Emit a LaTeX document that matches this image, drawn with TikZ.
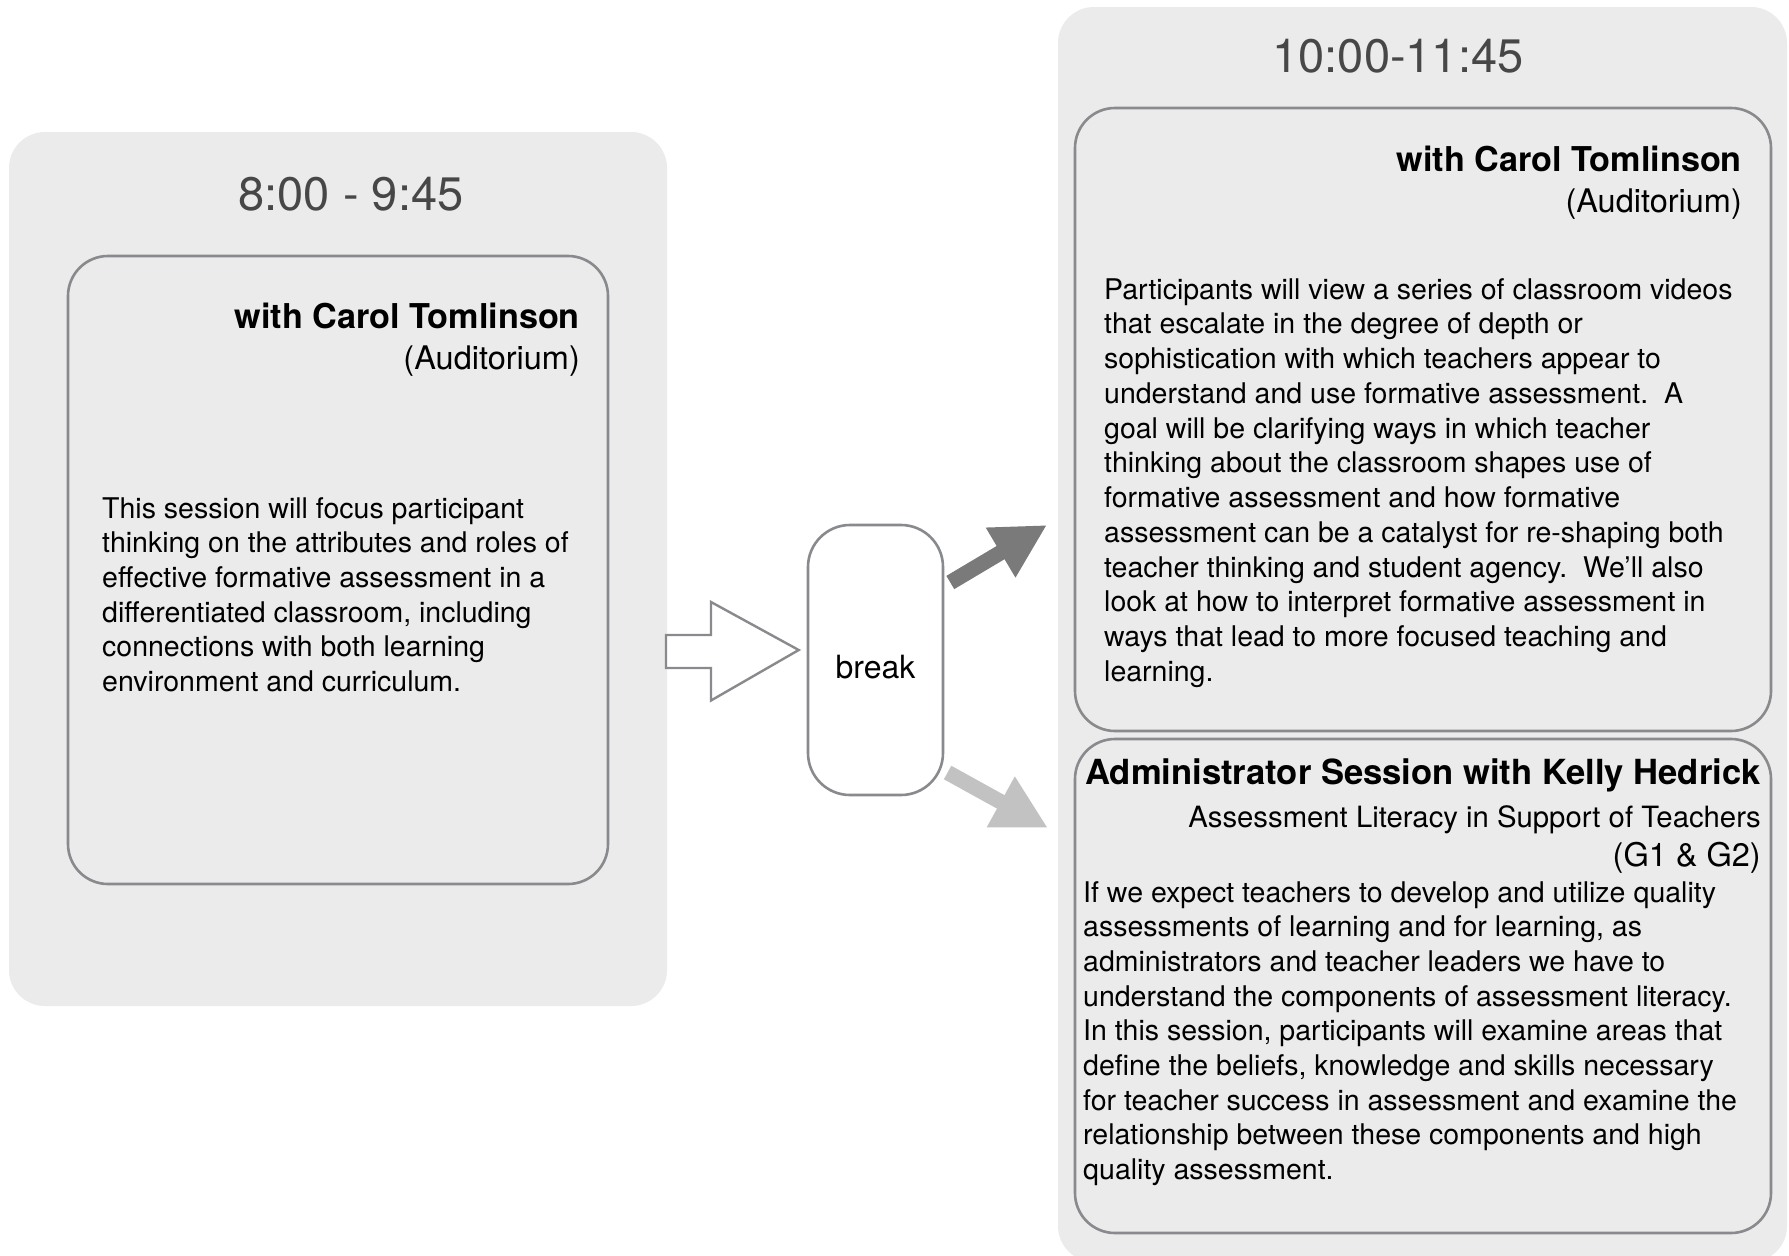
\documentclass[tikz,border=0pt]{standalone}
\usepackage{fontspec}
\setmainfont{TeX Gyre Heros}
\usetikzlibrary{arrows.meta,calc}
\definecolor{panelgray}{HTML}{EBEBEB}
\definecolor{edgegray}{HTML}{888A8D}
\definecolor{darkarrow}{HTML}{7A7A7A}
\definecolor{lightarrow}{HTML}{C2C2C2}
\begin{document}
\begin{tikzpicture}[x=1pt,y=-1pt,
  panel/.style={fill=panelgray, rounded corners=36pt, inner sep=0pt, outer sep=0pt},
  sessbox/.style={draw=edgegray, line width=2.6pt, fill=panelgray, rounded corners=40pt, inner sep=0pt, outer sep=0pt},
  breakbox/.style={draw=edgegray, line width=2.6pt, fill=white, rounded corners=42pt, inner sep=0pt,
     minimum width=135pt, minimum height=270pt, text height=36pt, text depth=0pt, font=\fontsize{32}{38}\selectfont},
  bodytxt/.style={anchor=base west, inner sep=0pt, font=\fontsize{28.5}{34.7}\selectfont},
  headtxt/.style={anchor=base east, inner sep=0pt, font=\fontsize{34.2}{40}\selectfont\bfseries},
  headtxtb/.style={anchor=base east, inner sep=0pt, font=\fontsize{34.6}{40}\selectfont\bfseries},
  subtxt/.style={anchor=base east, inner sep=0pt, font=\fontsize{32.5}{38}\selectfont},
  subtxtb/.style={anchor=base east, inner sep=0pt, font=\fontsize{29.3}{35}\selectfont},
  timetxt/.style={anchor=base, inner sep=0pt, font=\fontsize{47}{56}\selectfont, text=black!72},
  hollowarrow/.style={draw=edgegray, line width=2.4pt, fill=white, line join=miter},
  fatarrow/.style={line width=15.4pt, -{Triangle[length=54pt,width=54pt]}}
]
\useasboundingbox (0,0) rectangle (1789,1256);
\clip (0,0) rectangle (1789,1256);
\fill[white] (0,0) rectangle (1789,1256);

% panels
\node[panel, minimum width=658pt, minimum height=874pt] (L) at (338,569) {};
\node[panel, minimum width=729pt, minimum height=1255pt] (R) at (1422.5,634.5) {};

% session boxes
\node[sessbox, minimum width=540pt, minimum height=628pt] (LS) at (338,570) {};
\node[sessbox, minimum width=696pt, minimum height=623pt] (RT) at (1423,419.5) {};
\node[sessbox, minimum width=696pt, minimum height=494pt] (RB) at (1423,986) {};

% times
\node[timetxt] (t1) at (351,210) {8:00 - 9:45};
\node[timetxt] (t2) at (1398,72) {10:00-11:45};

% left session
\node[headtxt] (lh) at (580,328) {with Carol Tomlinson};
\node[subtxt] (ls) at (580,369) {(Auditorium)};
\foreach \t [count=\i] in {
  {This session will focus participant},
  {thinking on the attributes and roles of},
  {effective formative assessment in a},
  {differentiated classroom, including},
  {connections with both learning},
  {environment and curriculum.}}
  \node[bodytxt] (lb\i) at (102,{518+34.7*(\i-1)}) {\t};

% right top session
\node[headtxt] (rh) at (1742,171) {with Carol Tomlinson};
\node[subtxt] (rs) at (1742,212) {(Auditorium)};
\foreach \t [count=\i] in {
  {Participants will view a series of classroom videos},
  {that escalate in the degree of depth or},
  {sophistication with which teachers appear to},
  {understand and use formative assessment.\ \ A},
  {goal will be clarifying ways in which teacher},
  {thinking about the classroom shapes use of},
  {formative assessment and how formative},
  {assessment can be a catalyst for re-shaping both},
  {teacher thinking and student agency.\ \ We’ll also},
  {look at how to interpret formative assessment in},
  {ways that lead to more focused teaching and},
  {learning.}}
  \node[bodytxt] (rb\i) at (1104,{299+34.75*(\i-1)}) {\t};

% right bottom session
\node[headtxtb] (ah) at (1761,784) {Administrator Session with Kelly Hedrick};
\node[subtxtb] (as) at (1761,827) {Assessment Literacy in Support of Teachers};
\node[subtxt] (ag) at (1761,866) {(G1 \& G2)};
\foreach \t [count=\i] in {
  {If we expect teachers to develop and utilize quality},
  {assessments of learning and for learning, as},
  {administrators and teacher leaders we have to},
  {understand the components of assessment literacy.},
  {In this session, participants will examine areas that},
  {define the beliefs, knowledge and skills necessary},
  {for teacher success in assessment and examine the},
  {relationship between these components and high},
  {quality assessment.}}
  \node[bodytxt] (ab\i) at (1083,{902+34.7*(\i-1)}) {\t};

% break
\node[breakbox] (B) at (875.5,660) {break};

% hollow arrow from left panel to break
\coordinate (hs) at ($(L.east)+(-1,82.5)$);
\coordinate (ht) at ($(B.west)+(-8,-10)$);
\draw[hollowarrow] ($(hs)+(0,-16.5)$) -- ++(45,0) -- ++(0,-33) -- (ht)
  -- ($(hs)+(45,49)$) -- ++(0,-32.5) -- ($(hs)+(0,16.5)$) -- cycle;

% fat arrows from break to right panel
\coordinate (ds) at ($(B.east)+(6,-77.5)$);
\coordinate (dt) at ($(R.west)+(-11,-109.5)$);
\coordinate (ls0) at ($(B.east)+(3.3,112.5)$);
\coordinate (lt) at ($(R.west)+(-10,193.5)$);
\draw[fatarrow, darkarrow] (ds) -- (dt);
\draw[fatarrow, lightarrow] (ls0) -- (lt);
\end{tikzpicture}
\end{document}
